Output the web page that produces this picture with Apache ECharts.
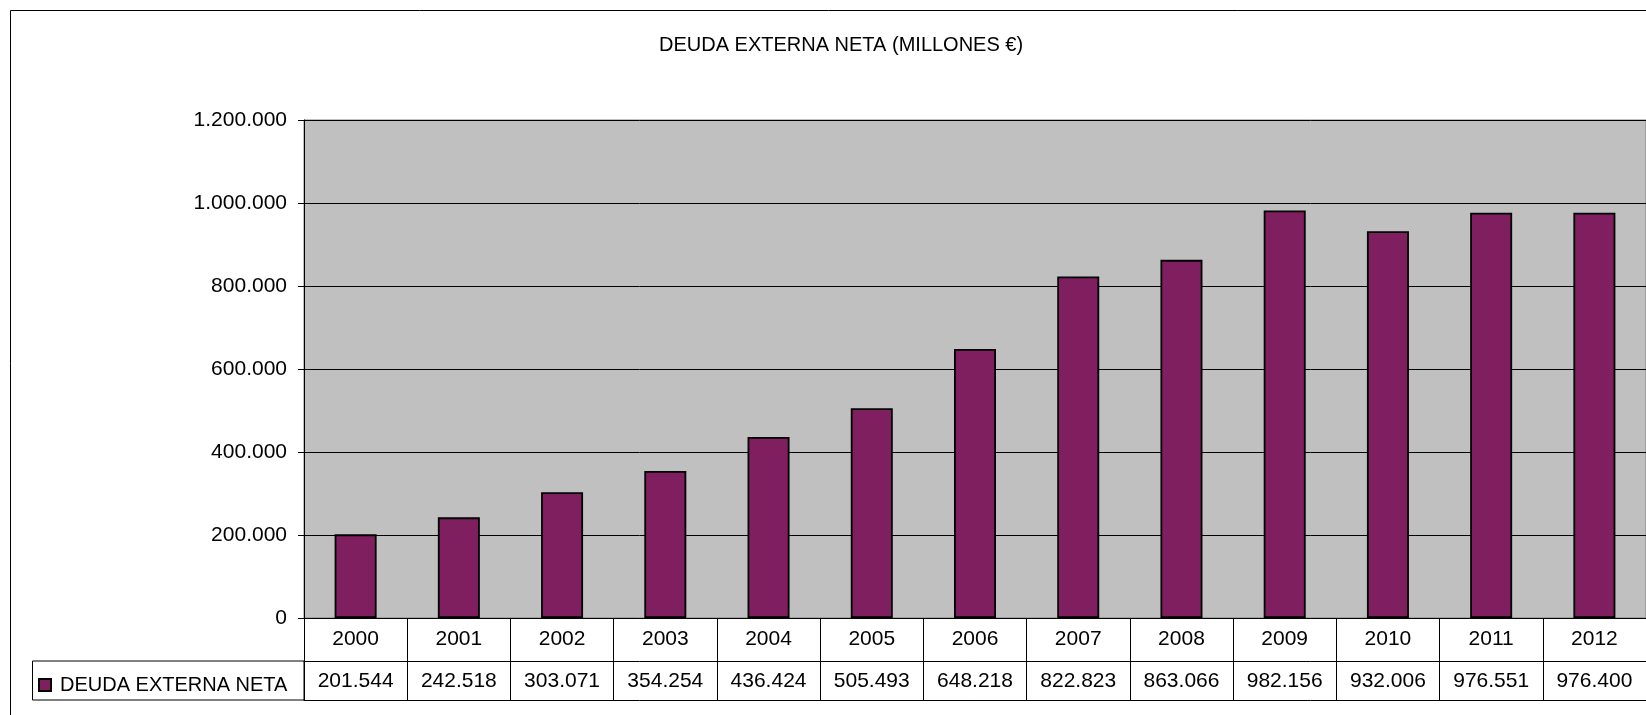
<!DOCTYPE html>
<html>
<head>
<meta charset="utf-8">
<script src="https://cdn.jsdelivr.net/npm/echarts@6/dist/echarts.min.js"></script>
<style>
html,body{margin:0;padding:0;background:#fff;}
#chart{width:1646px;height:715px;}
</style>
</head>
<body>
<div id="chart"></div>
<script>
const years = ['2000','2001','2002','2003','2004','2005','2006','2007','2008','2009','2010','2011','2012'];
const deuda = [201544, 242518, 303071, 354254, 436424, 505493, 648218, 822823, 863066, 982156, 932006, 976551, 976400];
const seriesName = 'DEUDA EXTERNA NETA';
const titleText = 'DEUDA EXTERNA NETA (MILLONES €)';

function fmt(v){ return String(v).replace(/\B(?=(\d{3})+(?!\d))/g, '.'); }

const FONT = "'Liberation Sans', Arial, sans-serif";
const chart = echarts.init(document.getElementById('chart'), null, {renderer:'canvas'});
chart.setOption({
  animation:false,
  backgroundColor:'#ffffff',
  textStyle:{fontFamily:FONT, color:'#000'},
  title:{
    text:titleText, left:659, top:35, padding:0,
    textStyle:{fontFamily:FONT, fontSize:20, fontWeight:'normal', color:'#000'}
  },
  legend:{
    data:[seriesName], left:38, top:675, padding:0,
    itemWidth:12, itemHeight:12, icon:'rect',
    textStyle:{fontFamily:FONT, fontSize:20, color:'#000', padding:[0,0,0,4]}
  },
  grid:{
    left:304, top:120, width:1352, height:498,
    show:true, backgroundColor:'#c0c0c0', borderColor:'#808080', borderWidth:1
  },
  xAxis:[
    {
      type:'category', data:years, position:'bottom', boundaryGap:true,
      axisLine:{show:true, lineStyle:{color:'#000', width:1}},
      axisTick:{show:true, length:82, interval:0, alignWithLabel:false, lineStyle:{color:'#000', width:1}},
      axisLabel:{interval:0, fontSize:21, color:'#000', margin:11, fontFamily:FONT},
      splitLine:{show:false}
    },
    {
      type:'category', data:deuda.map(fmt), position:'bottom', offset:43, boundaryGap:true,
      axisLine:{show:true, lineStyle:{color:'#000', width:1}},
      axisTick:{show:false},
      axisLabel:{interval:0, fontSize:21, color:'#000', margin:10, fontFamily:FONT},
      splitLine:{show:false}
    },
    {
      type:'category', data:years, position:'bottom', offset:82, boundaryGap:true,
      axisLine:{show:true, lineStyle:{color:'#000', width:1}},
      axisTick:{show:false},
      axisLabel:{show:false},
      splitLine:{show:false}
    }
  ],
  yAxis:{
    type:'value', min:0, max:1200000, interval:200000,
    axisLine:{show:true, lineStyle:{color:'#000', width:1}},
    axisTick:{show:true, length:6, lineStyle:{color:'#000'}},
    axisLabel:{formatter:fmt, fontSize:21, color:'#000', margin:17, fontFamily:FONT},
    splitLine:{show:true, lineStyle:{color:'#000', width:1}}
  },
  graphic:[
    {type:'rect', silent:true, shape:{x:10.5, y:10.5, width:3000, height:3000},
     style:{fill:'none', stroke:'#000', lineWidth:1}},
    {type:'rect', silent:true, shape:{x:32.5, y:661, width:271.5, height:39},
     style:{fill:'none', stroke:'#000', lineWidth:1}}
  ],
  series:[{
    name:seriesName, type:'bar', xAxisIndex:0, data:deuda, barWidth:42,
    itemStyle:{color:'#7f1f5f', borderColor:'#000', borderWidth:1.8}
  }]
});
</script>
</body>
</html>
